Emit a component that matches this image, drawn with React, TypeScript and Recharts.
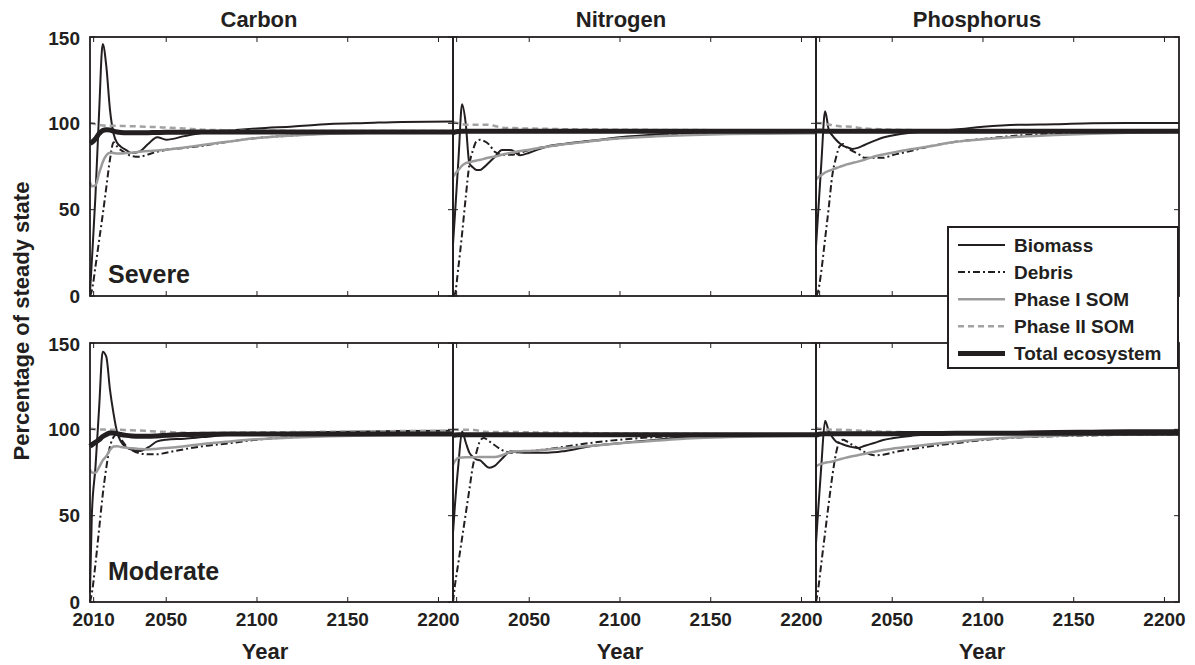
import { LineChart, Line, XAxis, YAxis } from "recharts";

const YEARS = [2008, 2009, 2011, 2013, 2015, 2017, 2019, 2021, 2023, 2025, 2028, 2031, 2035, 2040, 2045, 2050, 2060, 2070, 2085, 2100, 2120, 2140, 2160, 2180, 2208];
const X_TICKS = [2010, 2050, 2100, 2150, 2200];
const Y_TICKS = [0, 50, 100, 150];
const X_DOMAIN = [2008, 2208];
const Y_DOMAIN = [0, 150];
const ELEMENTS = ["Carbon", "Nitrogen", "Phosphorus"];
const SCENARIOS = ["Severe", "Moderate"];

// severe disturbance
const carbonSevereBiomass = [2, 20, 58, 106, 146, 133, 108, 94, 88.6, 86.5, 84.5, 82.8, 83.5, 88, 92, 90.5, 92.6, 94.6, 95.8, 97, 98.2, 99.6, 100.2, 100.8, 101];
const carbonSevereDebris = [0, 3, 17, 32, 47, 63, 79, 89, 86.5, 84.5, 82.5, 81, 80.6, 82, 83.5, 84.7, 85.8, 87, 89.5, 91.5, 93, 94.2, 94.8, 95, 95.2];
const carbonSeverePhase1 = [66, 63.5, 64, 71, 77.5, 81.5, 83, 82.8, 82.5, 82.5, 82.8, 83, 83.5, 84, 84.3, 84.7, 86, 87.5, 89.5, 91.5, 93, 94, 94.5, 94.8, 95];
const carbonSeverePhase2 = [100.2, 100, 99.5, 99, 98.8, 98.6, 98.6, 98.6, 98.6, 98.5, 98.4, 98.3, 98.2, 98, 97.8, 97.5, 97, 96.3, 96, 95.8, 95.6, 95.5, 95.5, 95.5, 95.5];
const carbonSevereTotal = [88.5, 89, 91, 94, 95.8, 96.3, 96.2, 95.5, 95, 94.7, 94.5, 94.5, 94.5, 94.6, 94.7, 94.8, 94.9, 95, 95, 95, 95, 95, 95, 95, 95];

const nitrogenSevereBiomass = [30, 46, 79, 111, 100, 77, 74.5, 73, 73, 74.5, 77.5, 80.5, 84.5, 84.5, 81.5, 83, 86.6, 88.2, 90, 92, 93.6, 94.5, 95, 95.2, 95.3];
const nitrogenSevereDebris = [0, 1, 17, 36, 57, 76, 84.5, 89.7, 90.5, 89.8, 87.6, 83.5, 81.8, 81.8, 83, 84.6, 86.5, 88, 89.8, 91.5, 93, 94, 94.5, 94.8, 95];
const nitrogenSeverePhase1 = [69, 70.5, 73, 75.5, 77, 77.5, 78, 78.5, 78.9, 79.4, 80.2, 80.8, 81.8, 83, 84, 84.7, 86.5, 88, 89.8, 91.3, 92.5, 93.3, 93.8, 94, 94.2];
const nitrogenSeverePhase2 = [101, 100.5, 100, 99.5, 99.2, 99.2, 99.2, 99.2, 99.2, 99.2, 99.1, 98.5, 97.5, 97.3, 97.1, 97, 96.8, 96.6, 96.4, 96.3, 96.2, 96.1, 96, 96, 96];
const nitrogenSevereTotal = [94, 95, 95.3, 95.4, 95.4, 95.4, 95.4, 95.4, 95.4, 95.4, 95.4, 95.4, 95.4, 95.4, 95.4, 95.4, 95.4, 95.4, 95.4, 95.4, 95.4, 95.4, 95.4, 95.4, 95.4];

const phosphorusSevereBiomass = [28.6, 45, 78, 107, 96.5, 93, 90.5, 88.5, 87, 86.2, 85.2, 85.8, 87.6, 89.8, 91.8, 93, 94.6, 95.4, 96.5, 98, 99.2, 99.5, 100.1, 100.2, 100.2];
const phosphorusSevereDebris = [0, 2, 15, 33, 51, 70, 80, 86.6, 88, 86, 84, 82.5, 80, 80, 80, 81.5, 84, 86.5, 89.3, 91, 93, 94, 94.5, 94.8, 95];
const phosphorusSeverePhase1 = [67.3, 68.5, 70, 71.5, 72.5, 73.2, 74, 74.8, 75.5, 76.2, 77, 77.8, 79, 80.8, 82, 83, 85, 86.6, 89.3, 90.8, 92.3, 93.3, 94, 94.5, 95];
const phosphorusSeverePhase2 = [100.2, 100.2, 100, 99.6, 99.3, 99, 98.6, 98.3, 98.2, 98.2, 98, 97.5, 97, 96.7, 96.5, 96.3, 96.1, 96, 95.9, 95.8, 95.8, 95.7, 95.7, 95.7, 95.7];
const phosphorusSevereTotal = [95, 95.6, 95.5, 95.4, 95.4, 95.4, 95.4, 95.4, 95.4, 95.4, 95.4, 95.4, 95.4, 95.4, 95.4, 95.4, 95.4, 95.4, 95.4, 95.4, 95.4, 95.4, 95.4, 95.4, 95.4];

// moderate disturbance
const carbonModerateBiomass = [5.6, 50, 78, 112, 145, 142, 123, 109, 98, 93, 89.5, 88.2, 87.4, 89.5, 93, 94, 94.6, 95.5, 96.8, 97.5, 98, 98.5, 98.8, 99, 99.2];
const carbonModerateDebris = [0, 5, 22, 42, 62, 78, 90, 95.5, 97.5, 94.5, 90.2, 88, 86.2, 85.5, 85.5, 86.5, 88.5, 90.2, 92, 94, 95.5, 96.3, 96.8, 97, 97.2];
const carbonModeratePhase1 = [76.7, 75, 74.8, 78, 82, 84.5, 88, 90, 90.2, 89.8, 89.4, 89, 88.6, 88.3, 88.8, 89.2, 90.2, 91.5, 93, 94.3, 95.3, 96, 96.5, 96.8, 97];
const carbonModeratePhase2 = [100.4, 100.3, 100.1, 100, 99.9, 99.8, 99.8, 99.8, 99.8, 99.7, 99.6, 99.5, 99.3, 99, 98.7, 98.5, 98, 97.9, 98, 98.2, 98.4, 98.6, 98.8, 99, 99];
const carbonModerateTotal = [90.2, 91, 92.5, 94, 95.8, 97, 97.9, 97.8, 97.5, 97, 96.5, 96.2, 96, 96, 96.2, 96.5, 97, 97.2, 97.3, 97.3, 97.3, 97.3, 97.3, 97.3, 97.3];

const nitrogenModerateBiomass = [40, 55, 80, 98.8, 92.5, 86.5, 84, 82.5, 82, 80, 77.7, 78.8, 83, 87.3, 86.6, 86.4, 86.4, 87.5, 90.5, 92, 94, 95.5, 96.3, 96.7, 97];
const nitrogenModerateDebris = [0, 9, 23, 37, 51, 65, 79, 87, 93.5, 95, 93, 90.8, 88, 86.5, 86.8, 87.3, 88.5, 90, 92.3, 94, 95.5, 96.3, 96.7, 97, 97];
const nitrogenModeratePhase1 = [79.6, 81.5, 83.5, 83.7, 83.8, 83.8, 83.9, 83.9, 84, 84, 84, 84, 85, 87, 87.3, 87.5, 88.3, 89.2, 90.5, 92, 93.5, 94.8, 95.5, 96, 96.5];
const nitrogenModeratePhase2 = [99.8, 99.8, 99.8, 99.8, 99.8, 99.7, 99.6, 99.5, 99, 98.6, 98.5, 98.5, 98.5, 98.5, 98.4, 98.3, 98.1, 98, 97.8, 97.6, 97.5, 97.4, 97.3, 97.2, 97.2];
const nitrogenModerateTotal = [96, 96.7, 96.9, 96.9, 96.9, 96.9, 96.9, 96.9, 96.9, 96.9, 96.9, 96.9, 96.9, 96.9, 96.9, 96.9, 96.9, 96.9, 96.9, 96.9, 96.9, 96.9, 96.9, 96.9, 96.9];

const phosphorusModerateBiomass = [34, 50, 80, 105, 99, 95.5, 93, 92, 91.2, 90.5, 89.7, 89.2, 90.5, 92.1, 93.8, 94.8, 96.2, 96.9, 97.5, 98, 98.5, 99, 99.2, 99.4, 99.5];
const phosphorusModerateDebris = [0, 6, 23, 40, 57, 73, 86, 93, 94, 93, 91, 89.2, 86.8, 85, 85.3, 86.5, 88.5, 90, 92, 93.8, 95.3, 96, 96.5, 96.8, 97];
const phosphorusModeratePhase1 = [78.6, 79.2, 80, 80.6, 81, 81.4, 82, 82.6, 83.2, 83.7, 84.4, 85, 85.9, 87, 88, 88.8, 90, 91.2, 92.8, 94.3, 95.5, 96.3, 96.8, 97, 97.3];
const phosphorusModeratePhase2 = [100.8, 100.5, 100.2, 100, 99.9, 99.8, 99.8, 99.8, 99.7, 99.6, 99.5, 99.3, 99, 98.8, 98.6, 98.5, 98.3, 98.2, 98.1, 98, 98, 98, 98, 98, 98];
const phosphorusModerateTotal = [96.5, 97, 97.3, 97.5, 97.5, 97.5, 97.5, 97.5, 97.5, 97.5, 97.5, 97.5, 97.5, 97.5, 97.5, 97.5, 97.6, 97.6, 97.7, 97.7, 97.8, 97.8, 97.8, 97.8, 97.8];

const INK = "#231f20";
const FONT = "'Liberation Sans', Arial, sans-serif";

const SERIES = [
  { key: "biomass", name: "Biomass", stroke: INK, width: 2, dash: undefined },
  { key: "debris", name: "Debris", stroke: INK, width: 2, dash: "7 3 2 3" },
  { key: "phase1", name: "Phase I SOM", stroke: "#9b9b9b", width: 2.5, dash: undefined },
  { key: "phase2", name: "Phase II SOM", stroke: "#a2a2a2", width: 2.5, dash: "6 4" },
  { key: "total", name: "Total ecosystem", stroke: INK, width: 5, dash: undefined },
];

const PANELS = [
  { row: 0, col: 0, series: [carbonSevereBiomass, carbonSevereDebris, carbonSeverePhase1, carbonSeverePhase2, carbonSevereTotal] },
  { row: 0, col: 1, series: [nitrogenSevereBiomass, nitrogenSevereDebris, nitrogenSeverePhase1, nitrogenSeverePhase2, nitrogenSevereTotal] },
  { row: 0, col: 2, series: [phosphorusSevereBiomass, phosphorusSevereDebris, phosphorusSeverePhase1, phosphorusSeverePhase2, phosphorusSevereTotal] },
  { row: 1, col: 0, series: [carbonModerateBiomass, carbonModerateDebris, carbonModeratePhase1, carbonModeratePhase2, carbonModerateTotal] },
  { row: 1, col: 1, series: [nitrogenModerateBiomass, nitrogenModerateDebris, nitrogenModeratePhase1, nitrogenModeratePhase2, nitrogenModerateTotal] },
  { row: 1, col: 2, series: [phosphorusModerateBiomass, phosphorusModerateDebris, phosphorusModeratePhase1, phosphorusModeratePhase2, phosphorusModerateTotal] },
];

const PLOT_W = 363;
const PLOT_H = 259;
const COL_X = [90, 453, 816];
const ROW_Y = [37, 343];
const TITLE_X = [259, 621, 977];
const YEAR_X = [265, 620, 982];

const tickStyle = { fontSize: 19, fontWeight: "bold", fill: INK, fontFamily: FONT };

function Panel({ row, col, series }: { row: number; col: number; series: number[][] }) {
  const showX = row === 1;
  const showY = col === 0;
  const data = YEARS.map((year, i) => {
    const d: Record<string, number> = { year };
    SERIES.forEach((s, j) => {
      d[s.key] = series[j][i];
    });
    return d;
  });
  const xH = showX ? 35 : 1;
  const yW = showY ? 50 : 1;
  return (
    <div style={{ position: "absolute", left: COL_X[col] - 50, top: ROW_Y[row] - 10 }}>
      <LineChart
        width={PLOT_W + 60}
        height={PLOT_H + 45}
        data={data}
        margin={{ top: 10, right: 10, left: 50 - yW, bottom: 35 - xH }}
      >
        <XAxis xAxisId="x" dataKey="year" type="number" domain={X_DOMAIN} ticks={col === 0 ? X_TICKS : X_TICKS.slice(1)} orientation="bottom" height={xH} axisLine={false} tickLine={false} tickSize={8} tickMargin={3} tick={showX ? tickStyle : false} />
        <YAxis yAxisId="y" dataKey="total" type="number" domain={Y_DOMAIN} ticks={Y_TICKS} orientation="left" width={yW} axisLine={false} tickLine={false} tickSize={8} tickMargin={2} tick={showY ? tickStyle : false} />
        {SERIES.map((s) => (
          <Line
            key={s.key}
            xAxisId="x"
            yAxisId="y"
            dataKey={s.key}
            type="monotone"
            stroke={s.stroke}
            strokeWidth={s.width}
            strokeDasharray={s.dash}
            dot={false}
            activeDot={false}
            isAnimationActive={false}
          />
        ))}
      </LineChart>
    </div>
  );
}

// panel boxes with inward tick marks, drawn above the charts
function Frames() {
  const px = (c: number, v: number) => COL_X[c] + ((v - X_DOMAIN[0]) / (X_DOMAIN[1] - X_DOMAIN[0])) * PLOT_W;
  const py = (r: number, v: number) => ROW_Y[r] + PLOT_H - ((v - Y_DOMAIN[0]) / (Y_DOMAIN[1] - Y_DOMAIN[0])) * PLOT_H;
  const T = 5;
  return (
    <g stroke={INK} fill="none">
      {PANELS.map(({ row: r, col: c }) => (
        <g key={`${r}-${c}`}>
          <rect x={COL_X[c]} y={ROW_Y[r]} width={PLOT_W} height={PLOT_H} strokeWidth={1.8} />
          {X_TICKS.map((t) => (
            <g key={`x${t}`} strokeWidth={1}>
              <line x1={px(c, t)} x2={px(c, t)} y1={ROW_Y[r] + PLOT_H} y2={ROW_Y[r] + PLOT_H - T} />
              <line x1={px(c, t)} x2={px(c, t)} y1={ROW_Y[r]} y2={ROW_Y[r] + T} />
            </g>
          ))}
          {Y_TICKS.map((t) => (
            <g key={`y${t}`} strokeWidth={1}>
              <line x1={COL_X[c]} x2={COL_X[c] + T} y1={py(r, t)} y2={py(r, t)} />
              <line x1={COL_X[c] + PLOT_W} x2={COL_X[c] + PLOT_W - T} y1={py(r, t)} y2={py(r, t)} />
            </g>
          ))}
        </g>
      ))}
    </g>
  );
}

function Overlay() {
  const txt = { fontFamily: FONT, fontWeight: "bold", fill: INK } as const;
  return (
    <svg width={1195} height={665} style={{ position: "absolute", left: 0, top: 0, pointerEvents: "none" }}>
      <Frames />
      {ELEMENTS.map((e, i) => (
        <text key={e} x={TITLE_X[i]} y={27} textAnchor="middle" fontSize={22} {...txt}>{e}</text>
      ))}
      {YEAR_X.map((x, i) => (
        <text key={i} x={x} y={659} textAnchor="middle" fontSize={22} {...txt}>Year</text>
      ))}
      <text transform="translate(29, 321) rotate(-90)" textAnchor="middle" fontSize={22} {...txt}>Percentage of steady state</text>
      {SCENARIOS.map((s, i) => (
        <text key={s} x={108} y={i === 0 ? 283 : 580} fontSize={25} {...txt}>{s}</text>
      ))}
      <rect x={948} y={227} width={230} height={141} fill="#fff" stroke={INK} strokeWidth={2} />
      {SERIES.map((s, i) => {
        const y = 245 + i * 27.1;
        return (
          <g key={s.key}>
            <line x1={958} x2={1005} y1={y} y2={y} stroke={s.stroke} strokeWidth={s.width} strokeDasharray={s.dash} />
            <text x={1014} y={y + 7} fontSize={19} {...txt}>{s.name}</text>
          </g>
        );
      })}
    </svg>
  );
}

export default function App() {
  return (
    <div style={{ position: "absolute", left: 0, top: 0, width: 1195, height: 665, background: "#fff" }}>
      {PANELS.map((p) => (
        <Panel key={`${p.row}-${p.col}`} row={p.row} col={p.col} series={p.series} />
      ))}
      <Overlay />
    </div>
  );
}
